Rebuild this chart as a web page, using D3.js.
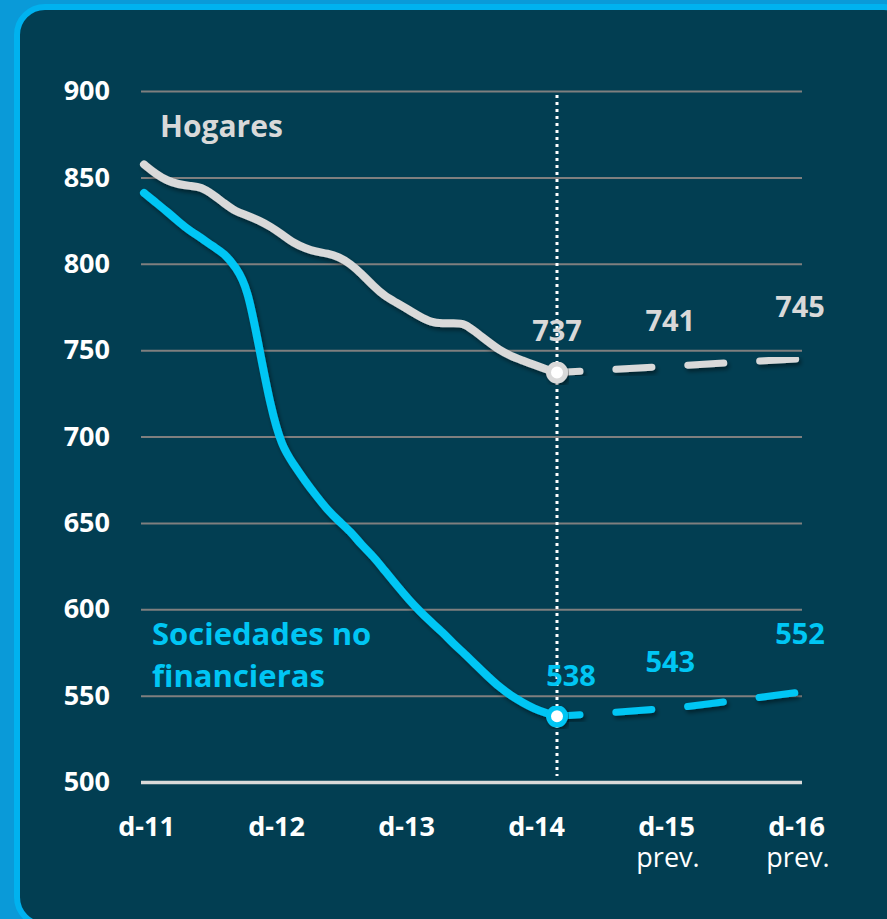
<!DOCTYPE html>
<html lang="es">
<head>
  <meta charset="UTF-8">
  <title>Hogares y sociedades no financieras</title>
  <script src="https://d3js.org/d3.v7.min.js"></script>
  <style>
    body { margin: 0; background: #0a9ad8; }
    text { font-family: "Open Sans", Lato, sans-serif; }
  </style>
</head>
<body>
  <div id="container"></div>
  <script>
    // monthly series, dic-2011 .. dic-2014
    const hogares = [857.5, 852, 848, 846, 845, 844.5, 840, 835, 830, 828, 825, 821.5, 817,
      812, 809, 807, 806, 804, 800, 794, 787, 781, 777.5, 773.5, 769.5, 766, 765.5, 765.5,
      765.5, 760, 755, 750, 746.5, 744, 741.5, 739, 737]
    const sociedades = [841, 835.5, 830, 824.5, 819, 815, 810, 806, 798, 786, 752, 717, 694,
      684, 674, 666, 657.5, 651, 645, 637, 630.5, 622, 614, 606, 599, 592.5, 586.5, 580,
      574, 567.5, 561, 555, 550, 546, 542.5, 540, 538]
    // forecasts dic-2014, dic-2015, dic-2016
    const prevHogares = [737, 741, 745]
    const prevSociedades = [538, 543, 552]
    const xLabels = ['d-11', 'd-12', 'd-13', 'd-14', 'd-15', 'd-16']
    const prevLabels = ['d-15', 'd-16']
    const yTicks = [500, 550, 600, 650, 700, 750, 800, 850, 900]

    const months = d3.timeMonth.range(new Date(2011, 11, 1), new Date(2015, 0, 1))
    const prevDates = [new Date(2014, 11, 1), new Date(2015, 11, 1), new Date(2016, 11, 1)]

    const W = 887, H = 919
    const gray = '#d9d9d9', cyan = '#00c6f4'
    const font = '"Open Sans", Lato, sans-serif'

    const svg = d3.select('#container').append('svg')
      .attr('width', W)
      .attr('height', H)

    const defs = svg.append('defs')
    defs.append('filter').attr('id', 'shadow')
      .attr('x', '-10%').attr('y', '-10%').attr('width', '130%').attr('height', '130%')
      .append('feDropShadow')
        .attr('dx', 2).attr('dy', 3).attr('stdDeviation', 2)
        .attr('flood-color', '#000').attr('flood-opacity', 0.45)

    // frame
    svg.append('rect')
      .attr('width', W).attr('height', H)
      .attr('fill', '#0a9ad8')
    svg.append('rect')
      .attr('x', 17).attr('y', 7)
      .attr('width', 895).attr('height', 918)
      .attr('rx', 28)
      .attr('fill', '#023e52')
      .attr('stroke', '#00b2ef')
      .attr('stroke-width', 6)

    const x = d3.scaleTime()
      .domain([months[0], prevDates[0], prevDates[2]])
      .range([144, 557, 800])
    const y = d3.scaleLinear().domain([500, 900]).range([782, 91])
    const xl = d3.scalePoint().domain(xLabels).range([146, 796])

    // y axis + gridlines
    const yAxis = svg.append('g')
      .attr('transform', 'translate(141,0)')
      .call(d3.axisLeft(y).tickValues(yTicks).tickSize(-661).tickPadding(31))
    yAxis.select('.domain').remove()
    yAxis.selectAll('line')
      .attr('stroke', '#7f7f7f')
      .attr('stroke-width', 2)
      .filter(d => d === 500)
        .attr('stroke', gray)
        .attr('stroke-width', 3.5)
    yAxis.selectAll('text')
      .attr('fill', '#fff')
      .attr('font-size', 27)
      .attr('font-weight', 700)
      .style('font-family', font)

    // x axis labels
    const xAxis = svg.append('g')
      .attr('transform', 'translate(0,782)')
      .call(d3.axisBottom(xl).tickSize(0))
    xAxis.select('.domain').remove()
    xAxis.selectAll('text')
      .attr('dy', null)
      .attr('y', 54)
      .attr('fill', '#fff')
      .attr('font-size', 27)
      .attr('font-weight', 700)
      .style('font-family', font)
    svg.selectAll('.prev')
      .data(prevLabels)
      .enter()
      .append('text')
        .attr('class', 'prev')
        .attr('x', d => xl(d) + 2)
        .attr('y', 867)
        .attr('text-anchor', 'middle')
        .attr('fill', '#fff')
        .attr('font-size', 27)
        .text('prev.')

    // dotted vertical line at d-14
    svg.append('line')
      .attr('x1', x(prevDates[0])).attr('x2', x(prevDates[0]))
      .attr('y1', 95).attr('y2', 776)
      .attr('stroke', '#fff')
      .attr('stroke-width', 3)
      .attr('stroke-dasharray', '3,4')

    const line = d3.line()
      .x((d, i) => x(months[i]))
      .y(d => y(d))
      .curve(d3.curveBasis)
    const prevLine = d3.line()
      .x((d, i) => x(prevDates[i]))
      .y(d => y(d))

    const series = [
      {hist: hogares, prev: prevHogares, color: gray},
      {hist: sociedades, prev: prevSociedades, color: cyan}
    ]

    series.forEach(s => {
      svg.append('path')
        .attr('d', prevLine(s.prev))
        .attr('fill', 'none')
        .attr('stroke', s.color)
        .attr('stroke-width', 7)
        .attr('stroke-linecap', 'round')
        .attr('stroke-dasharray', '36,36')
        .attr('stroke-dashoffset', 13)
        .attr('filter', 'url(#shadow)')
      svg.append('path')
        .attr('d', line(s.hist))
        .attr('fill', 'none')
        .attr('stroke', s.color)
        .attr('stroke-width', 8)
        .attr('stroke-linecap', 'round')
        .attr('stroke-linejoin', 'round')
        .attr('filter', 'url(#shadow)')
      svg.append('circle')
        .attr('cx', x(prevDates[0]))
        .attr('cy', y(s.prev[0]))
        .attr('r', 8.5)
        .attr('fill', '#fff')
        .attr('stroke', s.color)
        .attr('stroke-width', 5)
        .attr('filter', 'url(#shadow)')
    })

    // value labels
    const labelDx = [[0, -8, 0], [14, -8, 0]]
    const labelDy = [[-32, -35, -42], [-30, -36, -48]]
    series.forEach((s, si) => {
      svg.selectAll('.v' + si)
        .data(s.prev)
        .enter()
        .append('text')
          .attr('x', (d, i) => x(prevDates[i]) + labelDx[si][i])
          .attr('y', (d, i) => y(d) + labelDy[si][i])
          .attr('text-anchor', 'middle')
          .attr('fill', s.color)
          .attr('font-size', 29)
          .attr('font-weight', 700)
          .text(d => d)
    })

    // series names
    svg.append('text')
      .attr('x', 160).attr('y', 137)
      .attr('fill', gray)
      .attr('font-size', 30)
      .attr('font-weight', 700)
      .text('Hogares')
    const soc = svg.append('text')
      .attr('x', 152).attr('y', 645)
      .attr('fill', cyan)
      .attr('font-size', 31)
      .attr('font-weight', 700)
    soc.append('tspan').attr('x', 152).text('Sociedades no')
    soc.append('tspan').attr('x', 152).attr('dy', 42).text('financieras')
  </script>
</body>
</html>
